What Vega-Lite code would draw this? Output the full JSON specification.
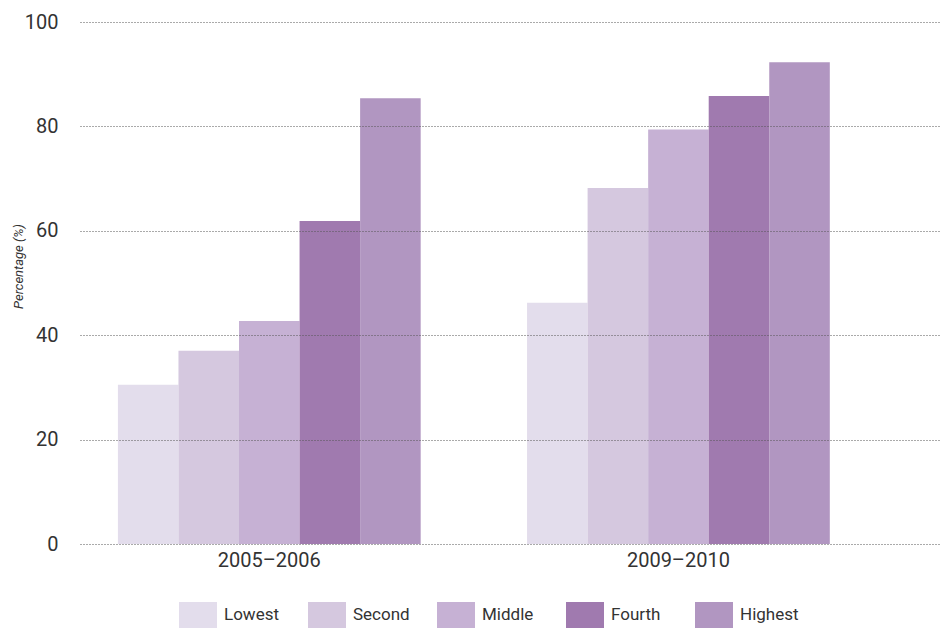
{
  "$schema": "https://vega.github.io/schema/vega-lite/v6.json",
  "width": 860,
  "height": 522,
  "autosize": "none",
  "padding": {"left": 80, "top": 22, "right": 9, "bottom": 84},
  "background": "white",
  "config": {
    "view": {"stroke": null},
    "font": "Roboto",
    "axis": {"labelFont": "Roboto", "labelColor": "#333333", "titleColor": "#333333"},
    "legend": {"labelFont": "Roboto", "labelColor": "#333333"}
  },
  "data": {
    "values": [
      {"period": "2005–2006", "quintile": "Lowest", "pct": 30.5},
      {"period": "2005–2006", "quintile": "Second", "pct": 37.0},
      {"period": "2005–2006", "quintile": "Middle", "pct": 42.7},
      {"period": "2005–2006", "quintile": "Fourth", "pct": 61.9},
      {"period": "2005–2006", "quintile": "Highest", "pct": 85.4},
      {"period": "2009–2010", "quintile": "Lowest", "pct": 46.2},
      {"period": "2009–2010", "quintile": "Second", "pct": 68.2},
      {"period": "2009–2010", "quintile": "Middle", "pct": 79.4},
      {"period": "2009–2010", "quintile": "Fourth", "pct": 85.8},
      {"period": "2009–2010", "quintile": "Highest", "pct": 92.3}
    ]
  },
  "mark": {"type": "bar"},
  "encoding": {
    "x": {
      "field": "period",
      "type": "nominal",
      "scale": {"paddingInner": 0.26, "paddingOuter": 0.181, "align": 0.256},
      "axis": {
        "title": null,
        "labelAngle": 0,
        "labelFontSize": 20,
        "labelPadding": 6,
        "domain": false,
        "ticks": false,
        "grid": false
      }
    },
    "xOffset": {
      "field": "quintile",
      "type": "nominal",
      "sort": ["Lowest", "Second", "Middle", "Fourth", "Highest"],
      "scale": {"paddingInner": 0, "paddingOuter": 0}
    },
    "y": {
      "field": "pct",
      "type": "quantitative",
      "scale": {"domain": [0, 100], "nice": false},
      "axis": {
        "title": "Percentage (%)",
        "titleFont": "Roboto",
        "titleFontStyle": "italic",
        "titleFontWeight": "normal",
        "titleFontSize": 13,
        "titleAngle": -90,
        "titleBaseline": "alphabetic",
        "titleX": -58,
        "titleY": 244,
        "values": [0, 20, 40, 60, 80, 100],
        "labelFontSize": 20,
        "labelPadding": 22,
        "domain": false,
        "ticks": false,
        "grid": true,
        "gridColor": "#555555",
        "gridDash": [1, 2],
        "gridWidth": 1,
        "zindex": 1
      }
    },
    "color": {
      "field": "quintile",
      "type": "nominal",
      "sort": ["Lowest", "Second", "Middle", "Fourth", "Highest"],
      "scale": {
        "domain": ["Lowest", "Second", "Middle", "Fourth", "Highest"],
        "range": ["#e3ddec", "#d5c8df", "#c6b1d4", "#a07aaf", "#b196c1"]
      },
      "legend": {
        "title": null,
        "orient": "none",
        "legendX": 99,
        "legendY": 574,
        "direction": "horizontal",
        "columns": 5,
        "gridAlign": "all",
        "columnPadding": 25,
        "symbolType": "M-1,-0.684H1V0.684H-1Z",
        "symbolSize": 1444,
        "symbolStrokeWidth": 0,
        "symbolOpacity": 1,
        "labelFontSize": 17,
        "labelOffset": 7,
        "labelLimit": 200,
        "padding": 0
      }
    }
  }
}
